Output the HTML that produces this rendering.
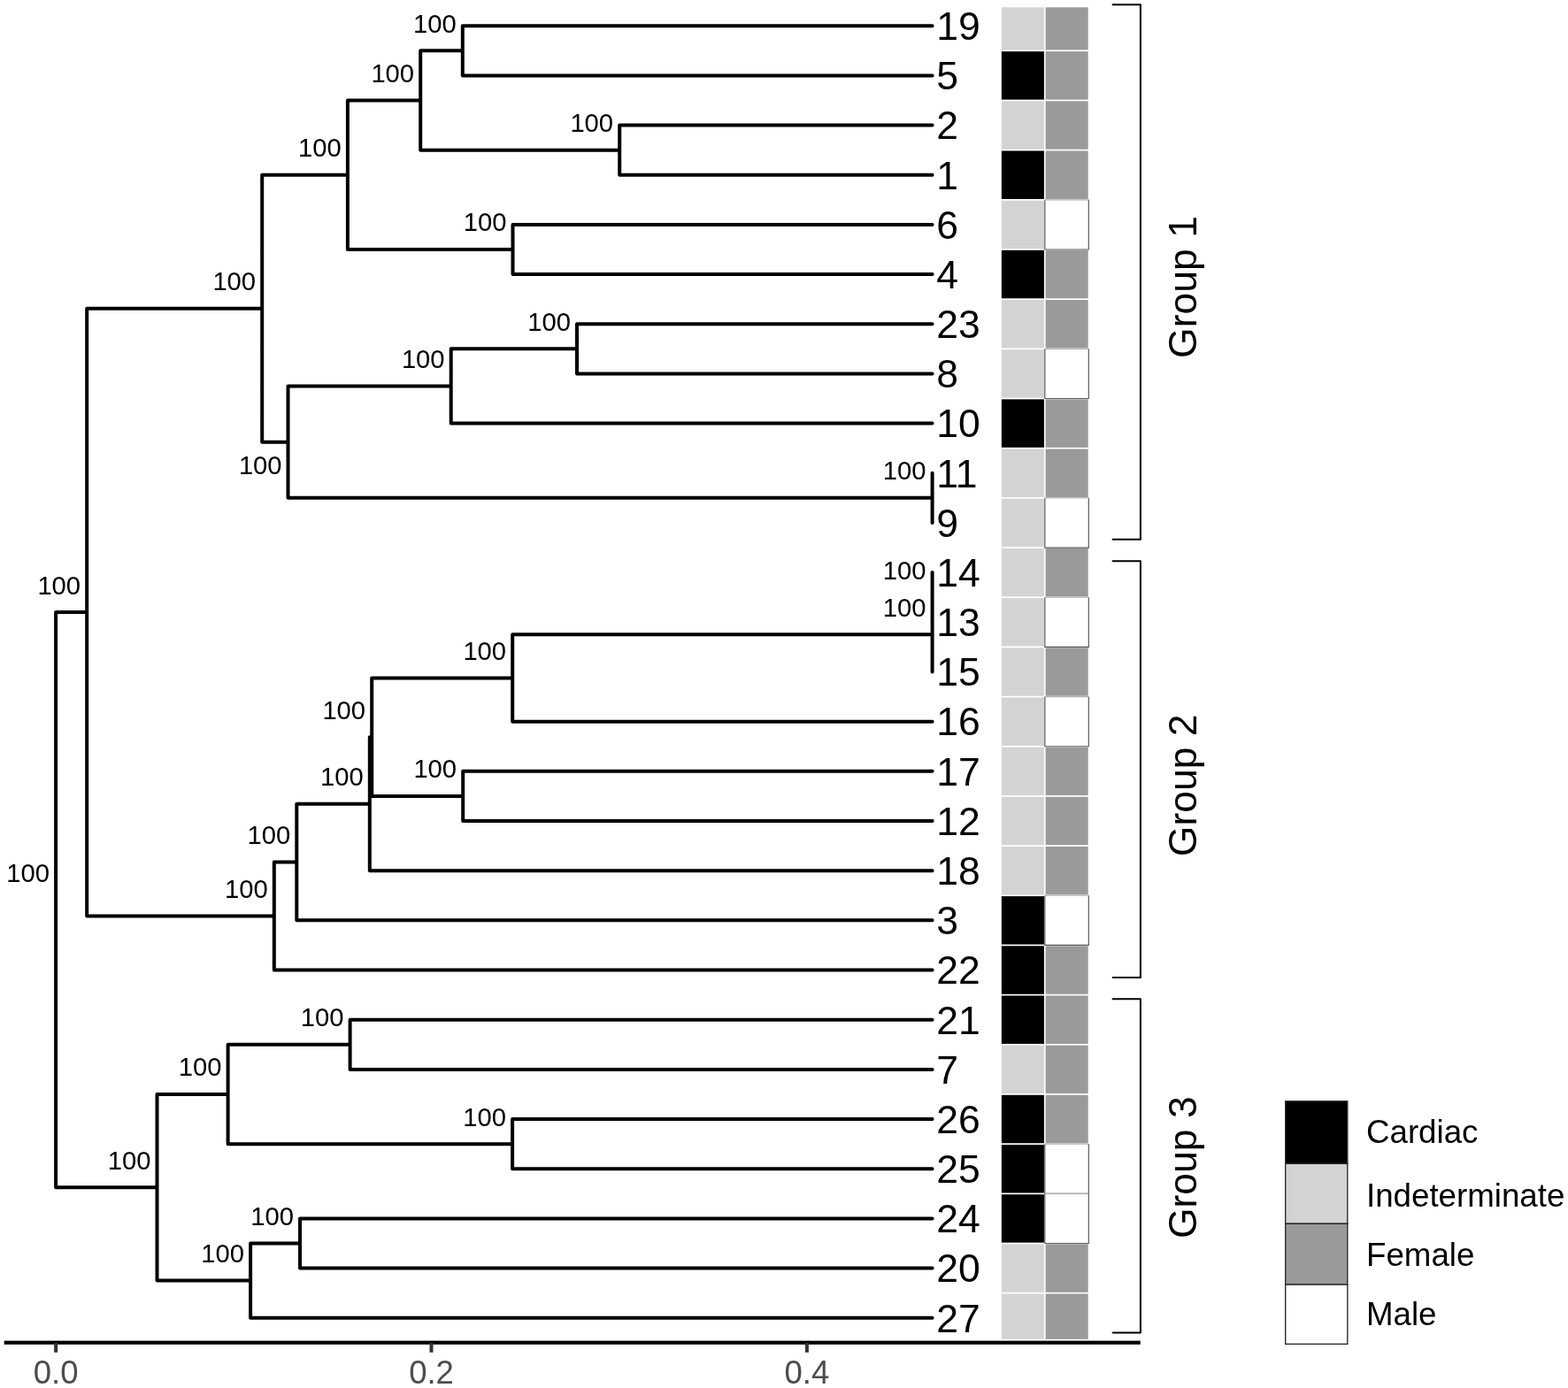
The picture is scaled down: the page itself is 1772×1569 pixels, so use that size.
<!DOCTYPE html>
<html><head><meta charset="utf-8"><title>Dendrogram</title>
<style>
html,body{margin:0;padding:0;background:#fff;}
body{width:1772px;height:1569px;overflow:hidden;}
svg{display:block;font-family:"Liberation Sans",Arial,Helvetica,sans-serif;}
</style></head><body>
<svg width="1772" height="1569" viewBox="0 0 1772 1569">
<rect width="1772" height="1569" fill="#fff"/>
<g id="heat"><rect x="1131.85" y="8.30" width="48.05" height="48.14" fill="#d3d3d3"/><rect x="1181.6" y="8.30" width="48.1" height="48.14" fill="#9a9a9a"/><rect x="1131.85" y="58.14" width="48.05" height="54.47" fill="#000000"/><rect x="1181.6" y="58.14" width="48.1" height="54.47" fill="#9a9a9a"/><rect x="1131.85" y="114.31" width="48.05" height="54.48" fill="#d3d3d3"/><rect x="1181.6" y="114.31" width="48.1" height="54.48" fill="#9a9a9a"/><rect x="1131.85" y="170.49" width="48.05" height="54.47" fill="#000000"/><rect x="1181.6" y="170.49" width="48.1" height="54.47" fill="#9a9a9a"/><rect x="1131.85" y="226.66" width="48.05" height="54.47" fill="#d3d3d3"/><rect x="1180.8" y="225.81" width="49.5" height="56.17" fill="#fff"/><rect x="1131.85" y="282.84" width="48.05" height="54.47" fill="#000000"/><rect x="1181.6" y="282.84" width="48.1" height="54.47" fill="#9a9a9a"/><rect x="1131.85" y="339.01" width="48.05" height="54.47" fill="#d3d3d3"/><rect x="1181.6" y="339.01" width="48.1" height="54.47" fill="#9a9a9a"/><rect x="1131.85" y="395.19" width="48.05" height="54.47" fill="#d3d3d3"/><rect x="1180.8" y="394.34" width="49.5" height="56.17" fill="#fff"/><rect x="1131.85" y="451.36" width="48.05" height="54.48" fill="#000000"/><rect x="1181.6" y="451.36" width="48.1" height="54.48" fill="#9a9a9a"/><rect x="1131.85" y="507.54" width="48.05" height="54.47" fill="#d3d3d3"/><rect x="1181.6" y="507.54" width="48.1" height="54.47" fill="#9a9a9a"/><rect x="1131.85" y="563.71" width="48.05" height="54.48" fill="#d3d3d3"/><rect x="1180.8" y="562.86" width="49.5" height="56.18" fill="#fff"/><rect x="1131.85" y="619.89" width="48.05" height="54.47" fill="#d3d3d3"/><rect x="1181.6" y="619.89" width="48.1" height="54.47" fill="#9a9a9a"/><rect x="1131.85" y="676.06" width="48.05" height="54.48" fill="#d3d3d3"/><rect x="1180.8" y="675.21" width="49.5" height="56.18" fill="#fff"/><rect x="1131.85" y="732.24" width="48.05" height="54.47" fill="#d3d3d3"/><rect x="1181.6" y="732.24" width="48.1" height="54.47" fill="#9a9a9a"/><rect x="1131.85" y="788.41" width="48.05" height="54.47" fill="#d3d3d3"/><rect x="1180.8" y="787.56" width="49.5" height="56.17" fill="#fff"/><rect x="1131.85" y="844.59" width="48.05" height="54.48" fill="#d3d3d3"/><rect x="1181.6" y="844.59" width="48.1" height="54.48" fill="#9a9a9a"/><rect x="1131.85" y="900.76" width="48.05" height="54.47" fill="#d3d3d3"/><rect x="1181.6" y="900.76" width="48.1" height="54.47" fill="#9a9a9a"/><rect x="1131.85" y="956.94" width="48.05" height="54.47" fill="#d3d3d3"/><rect x="1181.6" y="956.94" width="48.1" height="54.47" fill="#9a9a9a"/><rect x="1131.85" y="1013.11" width="48.05" height="54.48" fill="#000000"/><rect x="1180.8" y="1012.26" width="49.5" height="56.18" fill="#fff"/><rect x="1131.85" y="1069.29" width="48.05" height="54.48" fill="#000000"/><rect x="1181.6" y="1069.29" width="48.1" height="54.48" fill="#9a9a9a"/><rect x="1131.85" y="1125.46" width="48.05" height="54.47" fill="#000000"/><rect x="1181.6" y="1125.46" width="48.1" height="54.47" fill="#9a9a9a"/><rect x="1131.85" y="1181.64" width="48.05" height="54.48" fill="#d3d3d3"/><rect x="1181.6" y="1181.64" width="48.1" height="54.48" fill="#9a9a9a"/><rect x="1131.85" y="1237.81" width="48.05" height="54.47" fill="#000000"/><rect x="1181.6" y="1237.81" width="48.1" height="54.47" fill="#9a9a9a"/><rect x="1131.85" y="1293.99" width="48.05" height="54.48" fill="#000000"/><rect x="1180.8" y="1293.14" width="49.5" height="56.18" fill="#fff"/><rect x="1131.85" y="1350.16" width="48.05" height="54.48" fill="#000000"/><rect x="1180.8" y="1349.31" width="49.5" height="56.17" fill="#fff"/><rect x="1131.85" y="1406.34" width="48.05" height="54.48" fill="#d3d3d3"/><rect x="1181.6" y="1406.34" width="48.1" height="54.48" fill="#9a9a9a"/><rect x="1131.85" y="1462.51" width="48.05" height="51.29" fill="#d3d3d3"/><rect x="1181.6" y="1462.51" width="48.1" height="51.29" fill="#9a9a9a"/><g fill="none" stroke-width="1.2"><path d="M1180.8 225.81V281.99H1230.3V225.81" stroke="#5a5a5a"/><path d="M1180.8 225.81H1230.3" stroke="#b0b0b0"/><path d="M1180.8 394.34V450.51H1230.3V394.34" stroke="#5a5a5a"/><path d="M1180.8 394.34H1230.3" stroke="#b0b0b0"/><path d="M1180.8 562.86V619.04H1230.3V562.86" stroke="#5a5a5a"/><path d="M1180.8 562.86H1230.3" stroke="#b0b0b0"/><path d="M1180.8 675.21V731.39H1230.3V675.21" stroke="#5a5a5a"/><path d="M1180.8 675.21H1230.3" stroke="#b0b0b0"/><path d="M1180.8 787.56V843.74H1230.3V787.56" stroke="#5a5a5a"/><path d="M1180.8 787.56H1230.3" stroke="#b0b0b0"/><path d="M1180.8 1012.26V1068.44H1230.3V1012.26" stroke="#5a5a5a"/><path d="M1180.8 1012.26H1230.3" stroke="#b0b0b0"/><path d="M1180.8 1293.14V1349.31H1230.3V1293.14" stroke="#5a5a5a"/><path d="M1180.8 1293.14H1230.3" stroke="#b0b0b0"/><path d="M1180.8 1349.31V1405.49H1230.3V1349.31" stroke="#5a5a5a"/><path d="M1180.8 1349.31H1230.3" stroke="#b0b0b0"/></g></g>
<path d="M63.10 1017.20V692.11H98.20M63.10 1017.20V1342.29H177.50M98.20 692.11V348.70H296.20M98.20 692.11V1035.52H309.80M296.20 348.70V197.72H392.90M296.20 348.70V499.67H325.50M392.90 197.72V113.46H475.20M392.90 197.72V281.99H579.50M475.20 113.46V57.29H522.80M475.20 113.46V169.64H700.20M522.80 57.29V29.20H1053.60M522.80 57.29V85.38H1053.60M700.20 169.64V141.55H1053.60M700.20 169.64V197.72H1053.60M579.50 281.99V253.90H1053.60M579.50 281.99V310.07H1053.60M325.50 499.67V436.47H509.70M325.50 499.67V562.86H1053.60M509.70 436.47V394.34H652.00M509.70 436.47V478.60H1053.60M652.00 394.34V366.25H1053.60M652.00 394.34V422.42H1053.60M1053.60 562.86V534.77H1053.60M1053.60 562.86V590.95H1053.60M309.80 1035.52V974.52H335.30M309.80 1035.52V1096.53H1053.60M335.30 974.52V908.69H417.80M335.30 974.52V1040.35H1053.60M417.80 908.69V833.20H420.20M417.80 908.69V984.17H1053.60M420.20 833.20V766.50H579.20M420.20 833.20V899.91H523.20M579.20 766.50V717.34H1053.60M579.20 766.50V815.65H1053.60M1053.60 717.34V675.21H1053.60M1053.60 717.34V759.48H1053.60M1053.60 675.21V647.12H1053.60M1053.60 675.21V703.30H1053.60M523.20 899.91V871.83H1053.60M523.20 899.91V928.00H1053.60M177.50 1342.29V1236.96H257.60M177.50 1342.29V1447.62H283.10M257.60 1236.96V1180.79H395.60M257.60 1236.96V1293.14H579.10M395.60 1180.79V1152.70H1053.60M395.60 1180.79V1208.88H1053.60M579.10 1293.14V1265.05H1053.60M579.10 1293.14V1321.22H1053.60M283.10 1447.62V1405.49H339.00M283.10 1447.62V1489.75H1053.60M339.00 1405.49V1377.40H1053.60M339.00 1405.49V1433.58H1053.60" fill="none" stroke="#000" stroke-width="4.00" stroke-linecap="round" stroke-linejoin="round"/>
<g font-size="29.20" fill="#000" text-anchor="end"><text x="56.00" y="996.60">100</text><text x="91.10" y="671.51">100</text><text x="289.10" y="328.10">100</text><text x="385.80" y="177.12">100</text><text x="468.10" y="92.86">100</text><text x="515.70" y="36.69">100</text><text x="693.10" y="149.04">100</text><text x="572.40" y="261.39">100</text><text x="318.60" y="536.00">100</text><text x="502.60" y="415.87">100</text><text x="644.90" y="373.74">100</text><text x="1046.50" y="542.26">100</text><text x="302.70" y="1014.92">100</text><text x="328.20" y="953.92">100</text><text x="410.70" y="888.09">100</text><text x="413.10" y="812.60">100</text><text x="572.10" y="745.90">100</text><text x="1046.50" y="696.74">100</text><text x="1046.50" y="654.61">100</text><text x="516.10" y="879.31">100</text><text x="170.40" y="1321.69">100</text><text x="250.50" y="1216.36">100</text><text x="388.50" y="1160.19">100</text><text x="572.00" y="1272.54">100</text><text x="276.00" y="1427.02">100</text><text x="331.90" y="1384.89">100</text></g>
<g font-size="44.50" fill="#000"><text x="1058.3" y="45.00">19</text><text x="1058.3" y="101.17">5</text><text x="1058.3" y="157.35">2</text><text x="1058.3" y="213.52">1</text><text x="1058.3" y="269.70">6</text><text x="1058.3" y="325.88">4</text><text x="1058.3" y="382.05">23</text><text x="1058.3" y="438.22">8</text><text x="1058.3" y="494.40">10</text><text x="1058.3" y="550.57">11</text><text x="1058.3" y="606.75">9</text><text x="1058.3" y="662.92">14</text><text x="1058.3" y="719.10">13</text><text x="1058.3" y="775.27">15</text><text x="1058.3" y="831.45">16</text><text x="1058.3" y="887.62">17</text><text x="1058.3" y="943.80">12</text><text x="1058.3" y="999.97">18</text><text x="1058.3" y="1056.15">3</text><text x="1058.3" y="1112.33">22</text><text x="1058.3" y="1168.50">21</text><text x="1058.3" y="1224.67">7</text><text x="1058.3" y="1280.85">26</text><text x="1058.3" y="1337.02">25</text><text x="1058.3" y="1393.20">24</text><text x="1058.3" y="1449.38">20</text><text x="1058.3" y="1505.55">27</text></g>
<path d="M1257.6 5.30H1288.9V609.70H1257.6M1257.6 634.20H1288.9V1104.90H1257.6M1257.6 1129.30H1288.9V1506.60H1257.6" fill="none" stroke="#000" stroke-width="2" stroke-linecap="round" stroke-linejoin="round"/>
<g font-size="44.50" fill="#000" text-anchor="middle">
<text transform="translate(1352 324.50) rotate(-90)">Group 1</text>
<text transform="translate(1352 887.80) rotate(-90)">Group 2</text>
<text transform="translate(1352 1319.70) rotate(-90)">Group 3</text>
</g>
<rect x="4.7" y="1515.6" width="1284" height="4.2" fill="#000"/>
<g stroke="#333" stroke-width="4">
<line x1="63.10" y1="1518" x2="63.10" y2="1528.8"/>
<line x1="487.50" y1="1518" x2="487.50" y2="1528.8"/>
<line x1="911.90" y1="1518" x2="911.90" y2="1528.8"/>
</g>
<g font-size="36.5" fill="#4d4d4d" text-anchor="middle">
<text x="63.10" y="1564">0.0</text>
<text x="487.50" y="1564">0.2</text>
<text x="911.90" y="1564">0.4</text>
</g>
<g stroke="#222" stroke-width="1.3">
<rect x="1452.7" y="1244.8" width="70.1" height="70.6" fill="#000"/>
<rect x="1452.7" y="1315.4" width="70.1" height="67.9" fill="#d3d3d3"/>
<rect x="1452.7" y="1383.3" width="70.1" height="68.8" fill="#9a9a9a"/>
<rect x="1452.7" y="1452.1" width="70.1" height="67.2" fill="#fff"/>
</g>
<g font-size="36.7" fill="#000">
<text x="1544" y="1292.4">Cardiac</text>
<text x="1544" y="1363.8">Indeterminate</text>
<text x="1544" y="1431.1">Female</text>
<text x="1544" y="1498.4">Male</text>
</g>
</svg>
</body></html>
